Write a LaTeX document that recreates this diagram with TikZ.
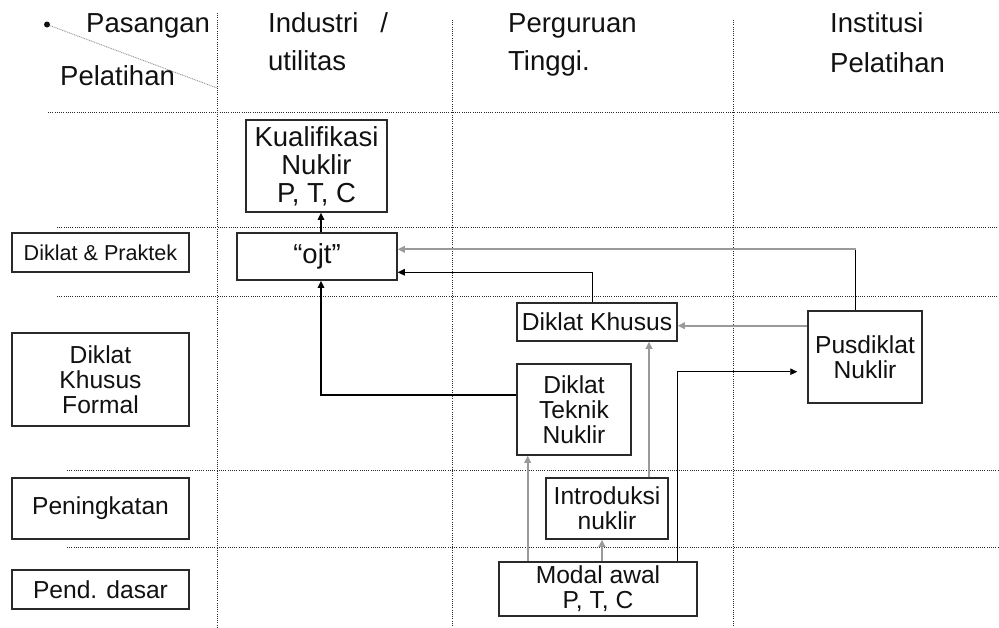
\documentclass[tikz,border=0pt]{standalone}
\usepackage{fontspec}
\setmainfont{Liberation Sans}
\usetikzlibrary{arrows.meta}
\definecolor{ink}{HTML}{111111}
\definecolor{edge}{HTML}{2A2A2A}
\definecolor{gline}{HTML}{9A9A9A}
\definecolor{dline}{HTML}{2A2A2A}
\tikzset{
  hdr/.style={anchor=base west, inner sep=0pt, text=ink, font=\fontsize{27.5}{28}\selectfont},
  box/.style={draw=edge, line width=1.5pt, text=ink, align=center, inner sep=0pt,
              font=\fontsize{24.6}{25}\selectfont},
  bigbox/.style={box, font=\fontsize{27.5}{28}\selectfont},
  grid/.style={dline, line width=1pt, dash pattern=on 1pt off 1.2pt},
  conn/.style={black, line width=1.3pt},
  gconn/.style={gline, line width=2pt},
  arr/.style={-{Triangle[length=7pt,width=6.5pt]}}
}
\begin{document}
\begin{tikzpicture}[x=1pt,y=-1pt]
\useasboundingbox (0,0) rectangle (999,627);
% grid lines
\draw[grid] (217,13) -- (217,627);
\draw[grid] (452,20) -- (452,627);
\draw[grid] (733,20) -- (733,627);
\draw[grid] (48,112.7) -- (999,112.7);
\draw[grid] (57,227) -- (999,227);
\draw[grid] (57,296) -- (999,296);
\draw[grid] (67,470.5) -- (999,470.5);
\draw[grid] (67,547) -- (999,547);
% corner header
\coordinate (bul) at (47,24.5);
\coordinate (dg) at (217,88);
\draw[gline, line width=0.9pt, dash pattern=on 1pt off 0.8pt] (bul) -- (dg);
\fill[ink] (bul) circle (3pt);
\node[hdr] (h1) at (86,32) {Pasangan};
\node[hdr] (h2) at (60,85) {Pelatihan};
\node[hdr] (h3) at (268,32) {Industri\hspace*{22pt}/};
\node[hdr] (h4) at (268,70) {utilitas};
\node[hdr] (h5) at (508,32) {Perguruan};
\node[hdr] (h6) at (508,70) {Tinggi.};
\node[hdr] (h7) at (830,32) {Institusi};
\node[hdr] (h8) at (830,72) {Pelatihan};
% left labels
\node[box, minimum width=177pt, minimum height=39pt, font=\fontsize{21.6}{22}\selectfont] (dp) at (100.5,252.5) {Diklat \& Praktek};
\node[box, minimum width=177pt, minimum height=93pt] (dkf) at (100.5,379.5) {Diklat\\Khusus\\Formal};
\node[box, minimum width=177pt, minimum height=61pt] (pen) at (100.5,508.5) {Peningkatan};
\node[box, minimum width=177pt, minimum height=39pt] (pd) at (100.5,589.5) {Pend. dasar};
% content boxes
\node[bigbox, minimum width=141pt, minimum height=92pt] (kual) at (316.5,166) {Kualifikasi\\Nuklir\\P, T, C};
\node[bigbox, minimum width=160pt, minimum height=47pt] (ojt) at (317,256.5) {“ojt”};
\node[box, minimum width=160pt, minimum height=38pt] (dk) at (597,322) {Diklat Khusus};
\node[box, minimum width=114pt, minimum height=91pt] (dtn) at (574,409.5) {Diklat\\Teknik\\Nuklir};
\node[box, minimum width=114pt, minimum height=92pt] (pus) at (865,357) {Pusdiklat\\Nuklir};
\node[box, minimum width=122pt, minimum height=61pt] (intro) at (607,508.5) {Introduksi\\nuklir};
\node[box, minimum width=198pt, minimum height=54pt] (modal) at (598,589) {Modal awal\\P, T, C};
% connectors
\coordinate (k1) at ([xshift=4pt]ojt.north);
\draw[conn,arr] (k1) -- (k1 |- kual.south);
\coordinate (p1) at ([xshift=-9.3pt]pus.north);
\coordinate (o1) at ([yshift=7.2pt]ojt.east);
\draw[conn] (p1) -- (p1 |- o1);
\draw[gconn,arr] (p1 |- o1) -- (o1);
\coordinate (d1) at ([xshift=-4.5pt]dk.north);
\coordinate (o2) at ([yshift=-15.8pt]ojt.east);
\draw[conn,arr] (d1) |- (o2);
\coordinate (t1) at ([yshift=14.5pt]dtn.west);
\coordinate (o3) at ([xshift=4pt]ojt.south);
\draw[conn,arr] (t1) -| (o3);
\coordinate (p2) at ([yshift=31.3pt]pus.west);
\draw[gconn,arr] (p2) -- (p2 -| dk.east);
\coordinate (m1) at ([xshift=-70.3pt]modal.north);
\draw[gconn,arr] (m1) -- (m1 |- dtn.south);
\coordinate (m2) at ([xshift=4pt]modal.north);
\draw[gconn,arr] (m2) -- (m2 |- intro.south);
\coordinate (i1) at ([xshift=42pt]intro.north);
\draw[gconn,arr] (i1) -- (i1 |- dk.south);
\coordinate (m3) at ([xshift=79pt]modal.north);
\coordinate (p3) at ([xshift=-10pt,yshift=-14.7pt]pus.west);
\draw[conn, line width=0.9pt, arr] (m3) |- (p3);
\end{tikzpicture}
\end{document}
